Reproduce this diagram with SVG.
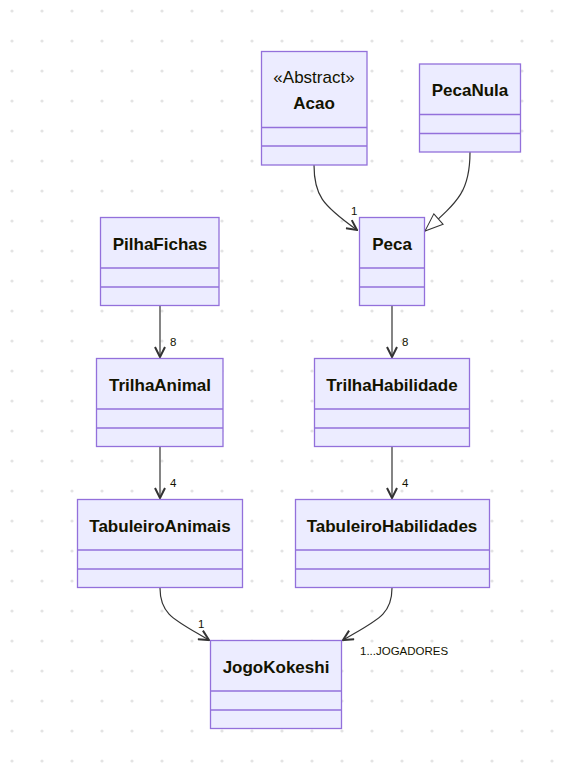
<svg xmlns="http://www.w3.org/2000/svg" width="568" height="764" viewBox="0 0 568 764">
<defs>
<pattern id="dots" x="0" y="0" width="30" height="30" patternUnits="userSpaceOnUse">
<circle cx="12" cy="11" r="1.6" fill="#e3e3e3"/>
</pattern>
<marker id="arrow" viewBox="0 0 12 12" refX="11" refY="6" markerWidth="12" markerHeight="12" markerUnits="userSpaceOnUse" orient="auto">
<path d="M1,1 L11,6 L1,11" fill="none" stroke="#333" stroke-width="2"/>
</marker>
<marker id="tri" viewBox="0 0 20 16" refX="19" refY="8" markerWidth="20" markerHeight="16" markerUnits="userSpaceOnUse" orient="auto">
<path d="M1,1 L19,8 L1,15 z" fill="#fff" stroke="#333" stroke-width="1"/>
</marker>
<style>
.box rect{fill:#ECECFF;stroke:#9370DB;stroke-width:1.3}
.box line{stroke:#9370DB;stroke-width:1.3}
.t{font-family:"Liberation Sans",Arial,sans-serif;font-size:17px;font-weight:bold;fill:#131300;text-anchor:middle;dominant-baseline:central}
.st{font-family:"Liberation Sans",Arial,sans-serif;font-size:17px;fill:#131300;text-anchor:middle;dominant-baseline:central}
.lbl{font-family:"Liberation Sans",Arial,sans-serif;font-size:11.5px;fill:#131300;dominant-baseline:central}
.edge{fill:none;stroke:#333;stroke-width:1.2}
</style>
</defs>
<rect width="568" height="764" fill="#fff"/>
<rect width="568" height="764" fill="url(#dots)"/>

<g id="connectors">
<path class="edge" d="M314,165 C314,195 322,205 357,230" marker-end="url(#arrow)"/>
<path class="edge" d="M470,152 C470,190 460,200 425,231" marker-end="url(#tri)"/>
<path class="edge" d="M160,306 L160,357" marker-end="url(#arrow)"/>
<path class="edge" d="M392,306 L392,357" marker-end="url(#arrow)"/>
<path class="edge" d="M160,447 L160,498" marker-end="url(#arrow)"/>
<path class="edge" d="M392,447 L392,498" marker-end="url(#arrow)"/>
<path class="edge" d="M160,588 C160,615 175,620 209,640" marker-end="url(#arrow)"/>
<path class="edge" d="M392,588 C392,615 377,620 343,640" marker-end="url(#arrow)"/>
<text class="lbl" x="351" y="211">1</text>
<text class="lbl" x="170" y="342">8</text>
<text class="lbl" x="402" y="342">8</text>
<text class="lbl" x="170" y="483">4</text>
<text class="lbl" x="402" y="483">4</text>
<text class="lbl" x="198" y="624">1</text>
<text class="lbl" x="360" y="651">1...JOGADORES</text>
</g>

<g id="Acao" class="box">
<rect x="261.5" y="51.5" width="105.5" height="113.5"/>
<line x1="261.5" y1="127.5" x2="367" y2="127.5"/>
<line x1="261.5" y1="146" x2="367" y2="146"/>
<text class="st" x="314" y="77">«Abstract»</text>
<text class="t" x="314" y="103">Acao</text>
</g>

<g id="PecaNula" class="box">
<rect x="419.5" y="64" width="101" height="88"/>
<line x1="419.5" y1="114.5" x2="520.5" y2="114.5"/>
<line x1="419.5" y1="133.5" x2="520.5" y2="133.5"/>
<text class="t" x="470" y="90">PecaNula</text>
</g>

<g id="PilhaFichas" class="box">
<rect x="100.5" y="217.5" width="118.5" height="88"/>
<line x1="100.5" y1="268" x2="219" y2="268"/>
<line x1="100.5" y1="287" x2="219" y2="287"/>
<text class="t" x="160" y="244">PilhaFichas</text>
</g>

<g id="Peca" class="box">
<rect x="359.5" y="217.5" width="65" height="88"/>
<line x1="359.5" y1="268" x2="424.5" y2="268"/>
<line x1="359.5" y1="287" x2="424.5" y2="287"/>
<text class="t" x="392" y="244">Peca</text>
</g>

<g id="TrilhaAnimal" class="box">
<rect x="96.5" y="358.5" width="126.5" height="88"/>
<line x1="96.5" y1="409" x2="223" y2="409"/>
<line x1="96.5" y1="428" x2="223" y2="428"/>
<text class="t" x="160" y="385">TrilhaAnimal</text>
</g>

<g id="TrilhaHabilidade" class="box">
<rect x="314.5" y="358.5" width="155" height="88"/>
<line x1="314.5" y1="409" x2="469.5" y2="409"/>
<line x1="314.5" y1="428" x2="469.5" y2="428"/>
<text class="t" x="392" y="385">TrilhaHabilidade</text>
</g>

<g id="TabuleiroAnimais" class="box">
<rect x="77.5" y="499.5" width="165" height="88"/>
<line x1="77.5" y1="550" x2="242.5" y2="550"/>
<line x1="77.5" y1="569" x2="242.5" y2="569"/>
<text class="t" x="160" y="526">TabuleiroAnimais</text>
</g>

<g id="TabuleiroHabilidades" class="box">
<rect x="295.5" y="499.5" width="194" height="88"/>
<line x1="295.5" y1="550" x2="489.5" y2="550"/>
<line x1="295.5" y1="569" x2="489.5" y2="569"/>
<text class="t" x="392" y="526">TabuleiroHabilidades</text>
</g>

<g id="JogoKokeshi" class="box">
<rect x="210.5" y="640.5" width="131" height="88"/>
<line x1="210.5" y1="691" x2="341.5" y2="691"/>
<line x1="210.5" y1="710" x2="341.5" y2="710"/>
<text class="t" x="276" y="667">JogoKokeshi</text>
</g>
</svg>
